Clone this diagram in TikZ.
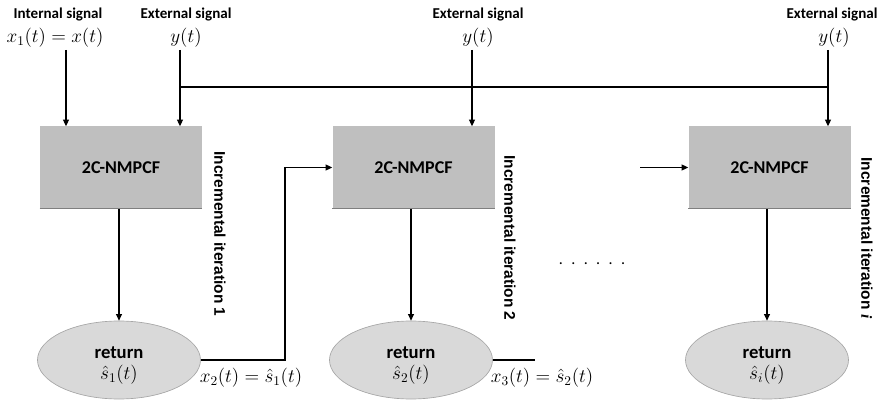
\documentclass[tikz,border=0pt]{standalone}
\usepackage{fontspec}
\setmainfont{Carlito}
\newfontfamily\arialfont{Liberation Sans}
\newfontfamily\serifit{Liberation Serif}
\usetikzlibrary{arrows.meta,shapes.geometric}
\definecolor{boxgray}{HTML}{BFBFBF}
\definecolor{boxline}{HTML}{7F7F7F}
\definecolor{ellfill}{HTML}{D9D9D9}
\definecolor{ellline}{HTML}{A6A6A6}
\newcommand{\retfont}{\fontsize{14}{16}\selectfont\bfseries}
\newcommand{\sigfont}{\fontsize{14.5}{16}\selectfont}
\tikzset{
  conn/.style={line width=0.9pt,draw=black},
  arr/.style={conn,-{Triangle[length=5pt,width=4.5pt]}},
  procbox/.style={rectangle,fill=boxgray,minimum width=121.5pt,minimum height=61.5pt,inner sep=0pt,font=\fontsize{13.5}{15}\selectfont\bfseries},
  retell/.style={ellipse,fill=ellfill,draw=ellline,line width=0.5pt,minimum width=122.25pt,minimum height=58.5pt,inner sep=0pt,align=center},
  hdr/.style={font=\fontsize{11.3}{13}\selectfont\bfseries,inner sep=0pt},
  sig/.style={font=\sigfont,inner sep=0pt},
  iterlab/.style={rotate=-90,font=\arialfont\bfseries\fontsize{11.6}{13}\selectfont,inner sep=0pt}
}
\begin{document}
\begin{tikzpicture}[x=0.75pt,y=-0.75pt]
\useasboundingbox (0,0) rectangle (886,403);

% boxes
\node[procbox] (b1) at (121,167.5) {2C-NMPCF};
\node[procbox] (b2) at (413.5,167.5) {2C-NMPCF};
\node[procbox] (b3) at (769.5,167.5) {2C-NMPCF};
\foreach \b in {b1,b2,b3}{
  \draw[boxline,line width=1pt] (\b.south west) -- (\b.south east);
}

% ellipses
\node[retell] (e1) at (119,360) {\rule{0pt}{17pt}{\retfont return}\\[4pt]{\sigfont$\hat{s}_1(t)$}};
\node[retell] (e2) at (411,360) {\rule{0pt}{17pt}{\retfont return}\\[4pt]{\sigfont$\hat{s}_2(t)$}};
\node[retell] (e3) at (767,360) {\rule{0pt}{17pt}{\retfont return}\\[4pt]{\sigfont$\hat{s}_i(t)$}};

% header labels
\node[hdr] (hint) at (58,14) {Internal signal};
\node[sig] (lx1) at (55,38) {$x_1(t) = x(t)$};
\node[hdr] (hext1) at (186,14) {External signal};
\node[sig] (ly1) at (186,38) {$y(t)$};
\node[hdr] (hext2) at (478,14) {External signal};
\node[sig] (ly2) at (478,38) {$y(t)$};
\node[hdr] (hext3) at (832,14) {External signal};
\node[sig] (ly3) at (834,38) {$y(t)$};

% input arrows
\coordinate (in1) at (66,50);
\coordinate (ex1) at (180,50);
\coordinate (ex2) at (472,50);
\coordinate (ex3) at (828,50);
\coordinate (j1) at (180,87);
\coordinate (j3) at (828,87);
\draw[arr] (in1) -- (in1 |- b1.north);
\draw[arr] (ex1) -- (ex1 |- b1.north);
\draw[arr] (ex2) -- (ex2 |- b2.north);
\draw[arr] (ex3) -- (ex3 |- b3.north);
\draw[conn] (j1) -- (j3);

% box to ellipse
\draw[arr] (e1.north |- b1.south) -- (e1.north);
\draw[arr] (e2.north |- b2.south) -- (e2.north);
\draw[arr] (e3.north |- b3.south) -- (e3.north);

% feedback
\coordinate (k1) at (285,360);
\draw[arr] (e1.east) -- (k1) |- (b2.west);
\node[sig] (lx2) at (251,378) {$x_2(t) = \hat{s}_1(t)$};
\coordinate (k2) at (535,360);
\draw[conn] (e2.east) -- (k2);
\node[sig] (lx3) at (542,378) {$x_3(t) = \hat{s}_2(t)$};
\coordinate (a3) at (640,167.5);
\draw[arr] (a3) -- (b3.west);

% dots
\node[inner sep=0pt,font=\fontsize{12}{14}\selectfont] (dots) at (592,264) {.\hspace{6.3pt}.\hspace{6.3pt}.\hspace{6.3pt}.\hspace{6.3pt}.\hspace{6.3pt}.};

% iteration labels
\node[iterlab] (it1) at (220,234) {Incremental iteration 1};
\node[iterlab] (it2) at (510,238) {Incremental iteration 2};
\node[iterlab] (it3) at (867,238) {Incremental iteration {\serifit\itshape i}};
\end{tikzpicture}
\end{document}
